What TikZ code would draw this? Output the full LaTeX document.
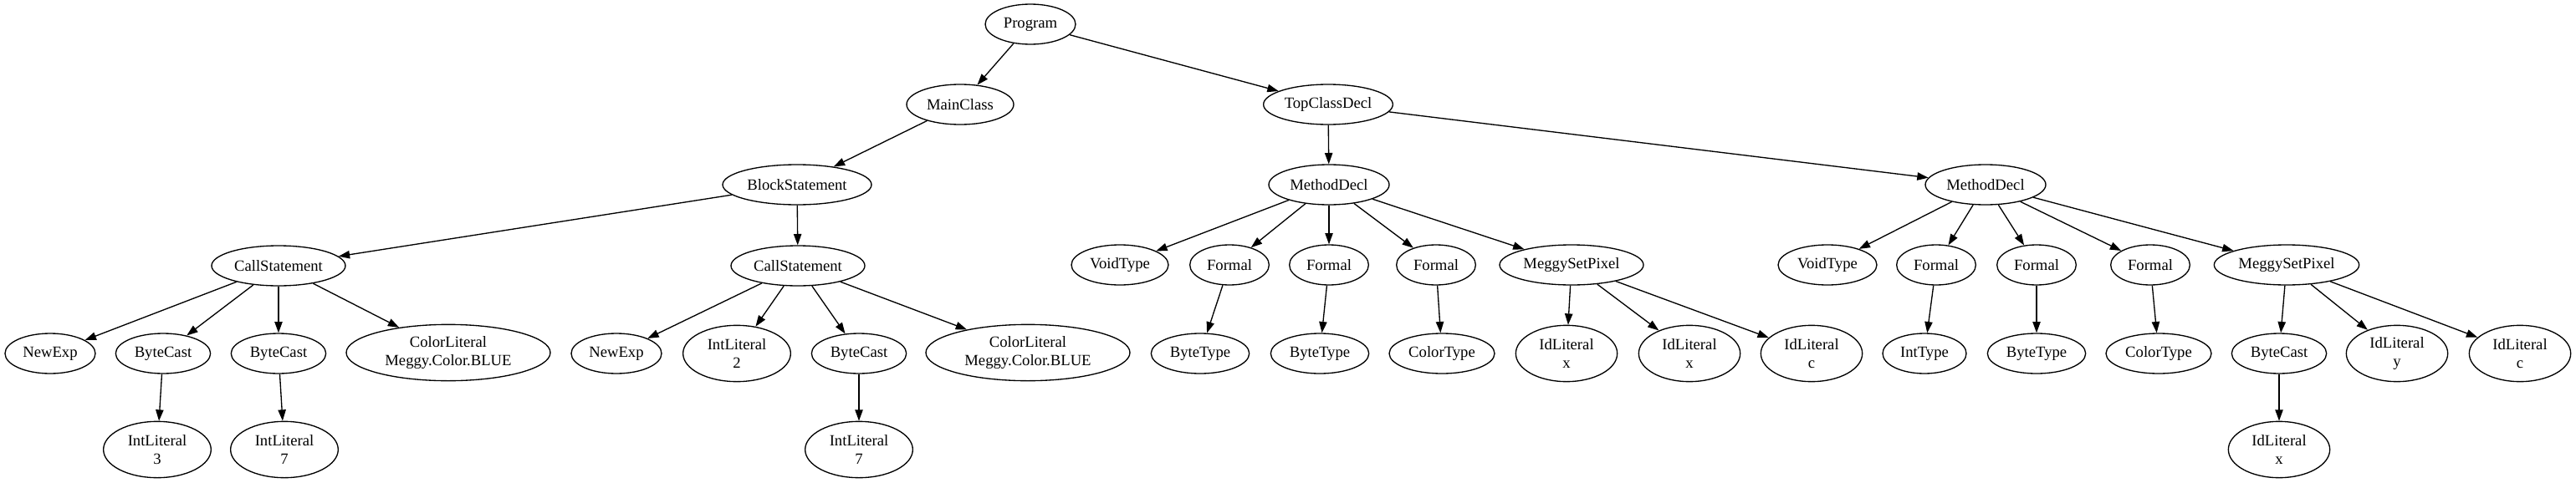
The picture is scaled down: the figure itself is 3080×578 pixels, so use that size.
\documentclass[tikz,border=0pt]{standalone}
\usepackage{fontspec}
\setmainfont{Liberation Serif}
\usetikzlibrary{shapes.geometric,arrows.meta}
\begin{document}
\begin{tikzpicture}[x=0.75pt,y=-0.75pt,
  n/.style={draw,ellipse,inner sep=0pt,line width=1pt,minimum height=36pt,align=center,font=\fontsize{14pt}{16pt}\selectfont},
  nn/.style={n,minimum height=50.5pt},
  e/.style={line width=1pt,-{Triangle[length=10pt,width=7pt]}}]
\useasboundingbox (0,0) rectangle (3080,578);
% level 1-3
\node[n,minimum width=81pt] (prog) at (1232,29) {Program};
\node[n,minimum width=96pt] (main) at (1148,125) {MainClass};
\node[n,minimum width=116pt] (top) at (1588,125) {TopClassDecl};
\node[n,minimum width=133.5pt] (block) at (953,221) {BlockStatement};
\node[n,minimum width=108pt] (md1) at (1589,221) {MethodDecl};
\node[n,minimum width=108pt] (md2) at (2374,221) {MethodDecl};
% level 4
\node[n,minimum width=120pt] (cs1) at (333,318) {CallStatement};
\node[n,minimum width=120pt] (cs2) at (954,318) {CallStatement};
\node[n,minimum width=87pt] (vt1) at (1339,317) {VoidType};
\node[n,minimum width=71pt] (f1) at (1470,317) {Formal};
\node[n,minimum width=71pt] (f2) at (1589,317) {Formal};
\node[n,minimum width=71pt] (f3) at (1717,317) {Formal};
\node[n,minimum width=129pt] (msp1) at (1879,317) {MeggySetPixel};
\node[n,minimum width=88.5pt] (vt2) at (2185,317) {VoidType};
\node[n,minimum width=71pt] (f4) at (2315,317) {Formal};
\node[n,minimum width=71pt] (f5) at (2435,317) {Formal};
\node[n,minimum width=71pt] (f6) at (2571,317) {Formal};
\node[n,minimum width=130pt] (msp2) at (2734,317) {MeggySetPixel};
% level 5
\node[n,minimum width=81pt] (ne1) at (60,423) {NewExp};
\node[n,minimum width=85pt] (bc1) at (195,423) {ByteCast};
\node[n,minimum width=85pt] (bc2) at (333,423) {ByteCast};
\node[nn,minimum width=183pt] (cl1) at (536,422) {ColorLiteral\\Meggy.Color.BLUE};
\node[n,minimum width=81pt] (ne2) at (737,423) {NewExp};
\node[nn,minimum width=96.5pt] (il2) at (881,423) {IntLiteral\\2};
\node[n,minimum width=85pt] (bc3) at (1027,423) {ByteCast};
\node[nn,minimum width=183pt] (cl2) at (1229,422) {ColorLiteral\\Meggy.Color.BLUE};
\node[n,minimum width=88pt] (bt1) at (1435,423) {ByteType};
\node[n,minimum width=88pt] (bt2) at (1578,423) {ByteType};
\node[n,minimum width=94.5pt] (ct1) at (1724,423) {ColorType};
\node[nn,minimum width=91pt] (id1) at (1873,423) {IdLiteral\\x};
\node[nn,minimum width=91pt] (id2) at (2020,423) {IdLiteral\\x};
\node[nn,minimum width=91pt] (id3) at (2166,423) {IdLiteral\\c};
\node[n,minimum width=75pt] (it) at (2301,423) {IntType};
\node[n,minimum width=88pt] (bt3) at (2435,423) {ByteType};
\node[n,minimum width=94.5pt] (ct2) at (2581,423) {ColorType};
\node[n,minimum width=85pt] (bc4) at (2725,423) {ByteCast};
\node[nn,minimum width=91pt] (id4) at (2866,423) {IdLiteral\\y};
\node[nn,minimum width=91pt] (id5) at (3013,423) {IdLiteral\\c};
% level 6
\node[nn,minimum width=96.5pt] (il3) at (188,538) {IntLiteral\\3};
\node[nn,minimum width=96.5pt] (il7a) at (340,538) {IntLiteral\\7};
\node[nn,minimum width=96.5pt] (il7b) at (1027,538) {IntLiteral\\7};
\node[nn,minimum width=91pt] (id6) at (2725,538) {IdLiteral\\x};
% edges
\foreach \a/\b in {prog/main,prog/top,main/block,top/md1,top/md2,block/cs1,block/cs2,
  cs1/ne1,cs1/bc1,cs1/bc2,cs1/cl1,bc1/il3,bc2/il7a,
  cs2/ne2,cs2/il2,cs2/bc3,cs2/cl2,bc3/il7b,
  md1/vt1,md1/f1,md1/f2,md1/f3,md1/msp1,f1/bt1,f2/bt2,f3/ct1,msp1/id1,msp1/id2,msp1/id3,
  md2/vt2,md2/f4,md2/f5,md2/f6,md2/msp2,f4/it,f5/bt3,f6/ct2,msp2/bc4,msp2/id4,msp2/id5,bc4/id6}
  \draw[e] (\a) -- (\b);
\end{tikzpicture}
\end{document}
